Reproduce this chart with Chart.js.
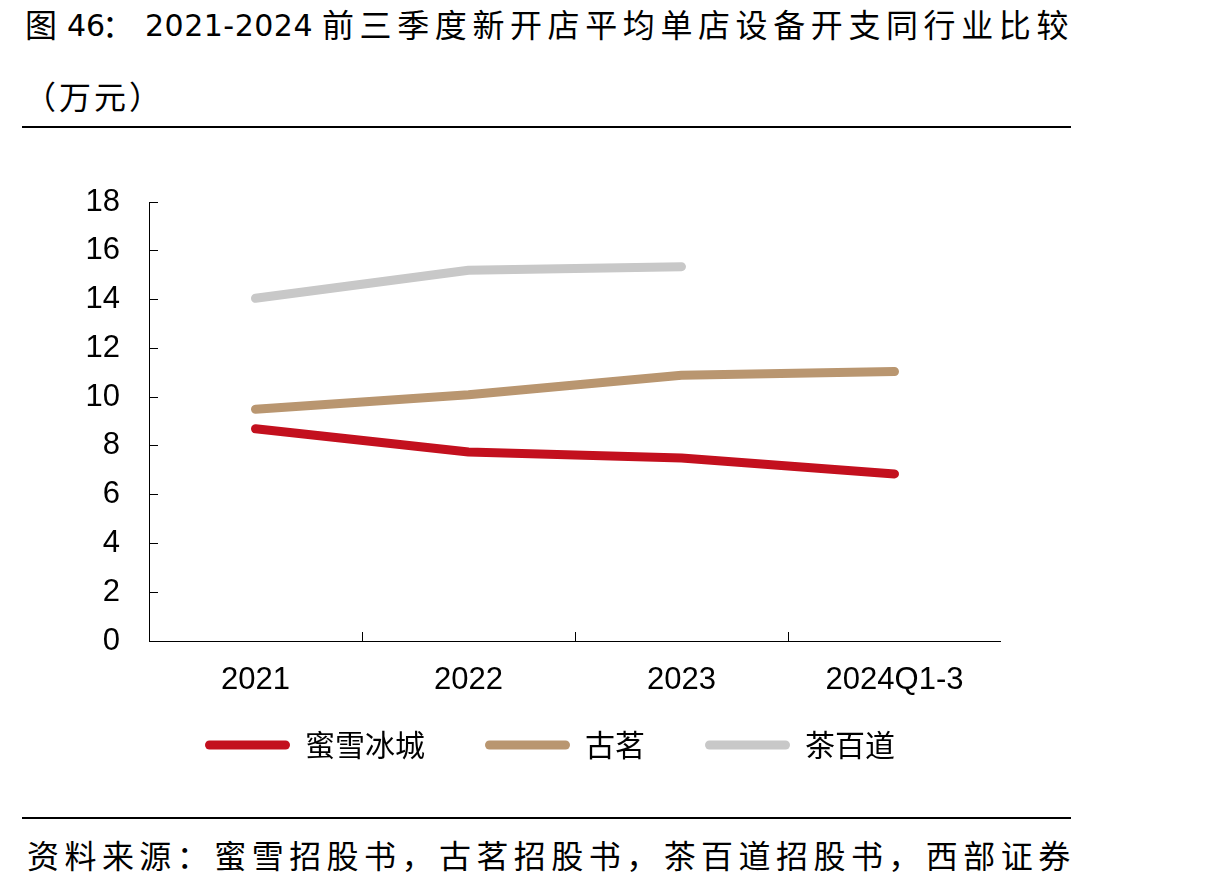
<!DOCTYPE html>
<html><head><meta charset="utf-8">
<script src="https://cdn.jsdelivr.net/npm/chart.js@4.4.1/dist/chart.umd.min.js"></script>
<style>
html,body{margin:0;padding:0;background:#fff;width:1214px;height:888px;overflow:hidden;}
.t{position:absolute;white-space:nowrap;color:#000;font-family:"Noto Sans CJK SC";line-height:1;}
.d{position:absolute;white-space:nowrap;color:#000;font-family:"DejaVu Sans";line-height:1;}
.rule{position:absolute;left:22px;width:1049px;height:2px;background:#000;}
#wrap{position:absolute;left:0;top:140px;width:1001px;height:630px;}
</style></head><body>
<div class="t" style="left:25px;top:7px;font-size:32px;">图</div>
<div class="d" style="left:67px;top:11px;font-size:30px;">46</div>
<div class="t" style="left:102px;top:7px;font-size:32px;">：</div>
<div class="d" style="left:145px;top:11px;font-size:30px;letter-spacing:0.5px;">2021-2024</div>
<div class="t" style="left:322px;top:7px;font-size:32px;letter-spacing:5.6px;">前三季度新开店平均单店设备开支同行业比较</div>
<div class="t" style="left:24px;top:79px;font-size:32px;letter-spacing:3px;">（万元）</div>
<div class="rule" style="top:126px;"></div>
<div id="wrap"><canvas id="c" width="1001" height="630"></canvas></div>
<div class="rule" style="top:817px;"></div>
<div class="t" style="left:27px;top:838px;font-size:32px;letter-spacing:5.45px;">资料来源：蜜雪招股书，古茗招股书，茶百道招股书，西部证券</div>
<script>
const categories = ['2021', '2022', '2023', '2024Q1-3'];
const seriesNames = ['蜜雪冰城', '古茗', '茶百道'];
const mixue = [8.7, 7.75, 7.5, 6.85];
const guming = [9.5, 10.1, 10.9, 11.05];
const chabaidao = [14.05, 15.2, 15.35, null];
const yMin = 0, yMax = 18, yStep = 2;
const colors = ['#C3101E', '#B99670', '#C8C8C8'];

const seriesData = [mixue, guming, chabaidao];
const datasets = seriesData.map((d, i) => ({
  label: seriesNames[i],
  data: d,
  borderColor: colors[i],
  backgroundColor: colors[i],
  borderWidth: 9,
  pointRadius: 0,
  pointHoverRadius: 0,
  borderCapStyle: 'round',
  borderJoinStyle: 'round',
  tension: 0,
  fill: false,
  spanGaps: false
}));

new Chart(document.getElementById('c'), {
  type: 'line',
  data: { labels: categories, datasets },
  options: {
    responsive: false,
    animation: false,
    devicePixelRatio: 1,
    layout: { padding: { left: 99, right: 0, top: 62, bottom: 0 } },
    plugins: {
      tooltip: { enabled: false },
      legend: {
        position: 'bottom',
        labels: {
          boxWidth: 85,
          boxHeight: 9,
          padding: 60,
          color: '#000',
          font: { family: 'Noto Sans CJK SC', size: 30 },
          generateLabels(chart) {
            const items = Chart.defaults.plugins.legend.labels.generateLabels(chart);
            items.forEach(it => { it.fillStyle = it.strokeStyle; it.lineWidth = 0; it.borderRadius = 4.5; });
            return items;
          }
        }
      }
    },
    scales: {
      x: {
        offset: true,
        grid: { offset: true, drawOnChartArea: false, drawTicks: true, tickLength: -9, color: '#000', lineWidth: 1 },
        border: { display: true, color: '#000', width: 1 },
        ticks: { color: '#000', font: { family: 'Liberation Sans', size: 31 }, padding: 29.4, maxRotation: 0 },
        afterFit(s) { s.height = 29; s._computeLabelArea = () => undefined; }
      },
      y: {
        min: yMin, max: yMax,
        grid: { drawOnChartArea: false, drawTicks: true, tickLength: -9, color: '#000', lineWidth: 1 },
        border: { display: true, color: '#000', width: 1 },
        ticks: { stepSize: yStep, color: '#000', font: { family: 'Liberation Sans', size: 31 }, padding: 38 },
        afterFit(s) { s.width = 50; s._computeLabelArea = () => undefined; }
      }
    }
  }
});
</script>
</body></html>
